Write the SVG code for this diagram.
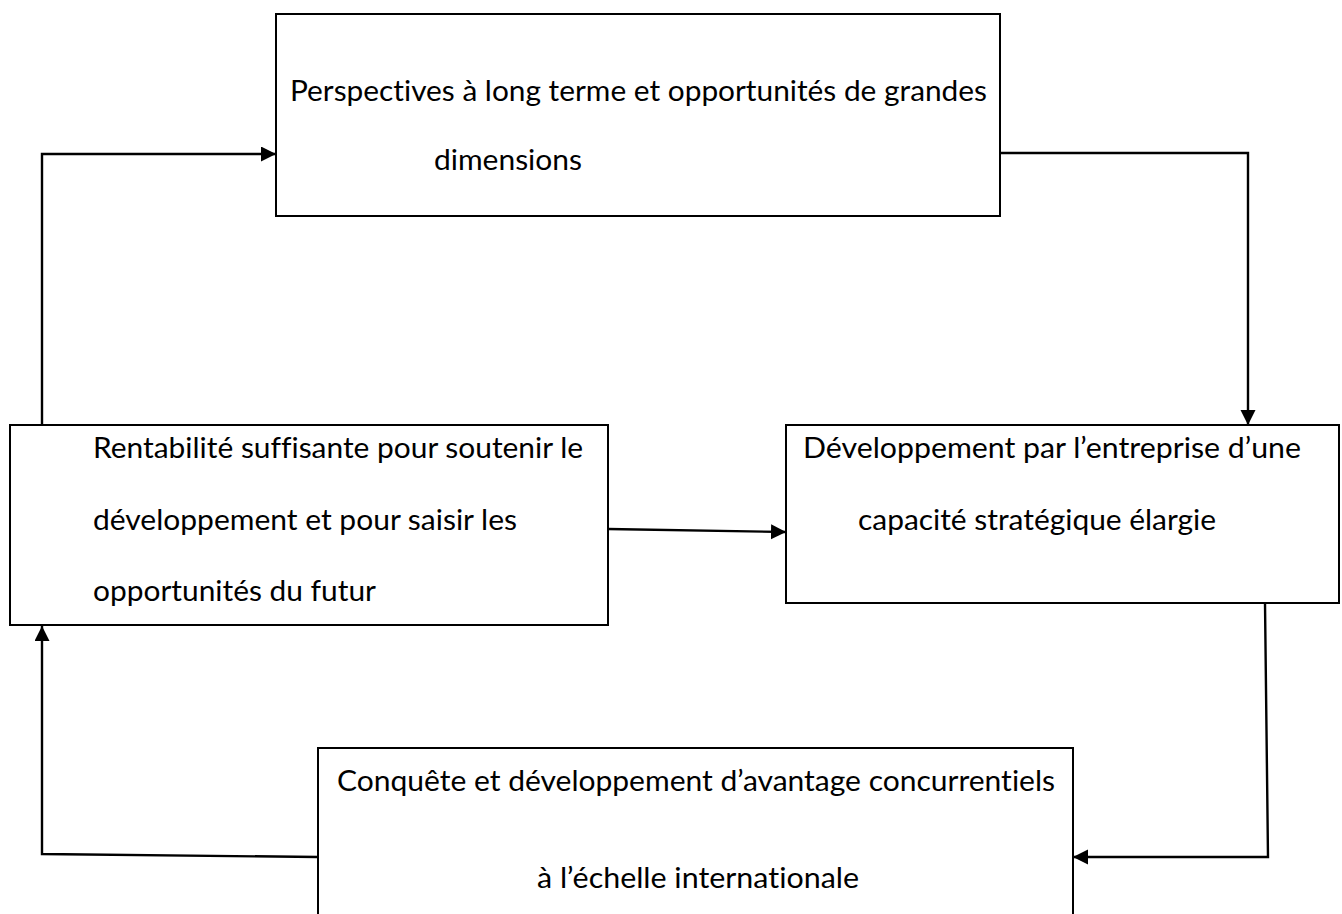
<svg xmlns="http://www.w3.org/2000/svg" width="1342" height="914" viewBox="0 0 1342 914">
  <style>
    .box { fill: #ffffff; stroke: #000000; stroke-width: 2; }
    .lbl { font-family: Lato, "Open Sans", "Liberation Sans", sans-serif; font-size: 29px; fill: #000000; font-variant-ligatures: none; font-feature-settings: "liga" 0, "dlig" 0; }
    .link { fill: none; stroke: #000000; stroke-width: 2.4; }
  </style>
  <defs>
    <marker id="arrow" markerUnits="userSpaceOnUse" markerWidth="16" markerHeight="16" refX="15" refY="7.5" orient="auto">
      <path d="M0,0 L15,7.5 L0,15 z" fill="#000000"/>
    </marker>
  </defs>
  <rect width="1342" height="914" fill="#ffffff"/>

  <g id="node-perspectives">
    <rect class="box" x="276" y="14" width="724" height="202"/>
    <text class="lbl" x="290" y="101" textLength="697" lengthAdjust="spacingAndGlyphs">Perspectives à long terme et opportunités de grandes</text>
    <text class="lbl" x="434" y="170" textLength="148" lengthAdjust="spacingAndGlyphs">dimensions</text>
  </g>

  <g id="node-rentabilite">
    <rect class="box" x="10" y="425" width="598" height="200"/>
    <text class="lbl" x="93" y="458" textLength="490" lengthAdjust="spacingAndGlyphs">Rentabilité suffisante pour soutenir le</text>
    <text class="lbl" x="93" y="530" textLength="424" lengthAdjust="spacingAndGlyphs">développement et pour saisir les</text>
    <text class="lbl" x="93" y="601" textLength="283" lengthAdjust="spacingAndGlyphs">opportunités du futur</text>
  </g>

  <g id="node-capacite">
    <rect class="box" x="786" y="425" width="553" height="178"/>
    <text class="lbl" x="803" y="458" textLength="498" lengthAdjust="spacingAndGlyphs">Développement par l’entreprise d’une</text>
    <text class="lbl" x="858" y="530" textLength="358" lengthAdjust="spacingAndGlyphs">capacité stratégique élargie</text>
  </g>

  <g id="node-conquete">
    <path class="box" d="M318,930 V748 H1073 V930"/>
    <text class="lbl" x="337" y="791" textLength="718" lengthAdjust="spacingAndGlyphs">Conquête et développement d’avantage concurrentiels</text>
    <text class="lbl" x="537" y="888" textLength="322" lengthAdjust="spacingAndGlyphs">à l’échelle internationale</text>
  </g>

  <g id="connectors">
    <path class="link" d="M42,425 V154 H276" marker-end="url(#arrow)"/>
    <path class="link" d="M1000,153 H1248 V425" marker-end="url(#arrow)"/>
    <path class="link" d="M608,529 L786,532" marker-end="url(#arrow)"/>
    <path class="link" d="M1265,603 L1268,857 H1073" marker-end="url(#arrow)"/>
    <path class="link" d="M318,857 L42,854 V626" marker-end="url(#arrow)"/>
  </g>
</svg>
